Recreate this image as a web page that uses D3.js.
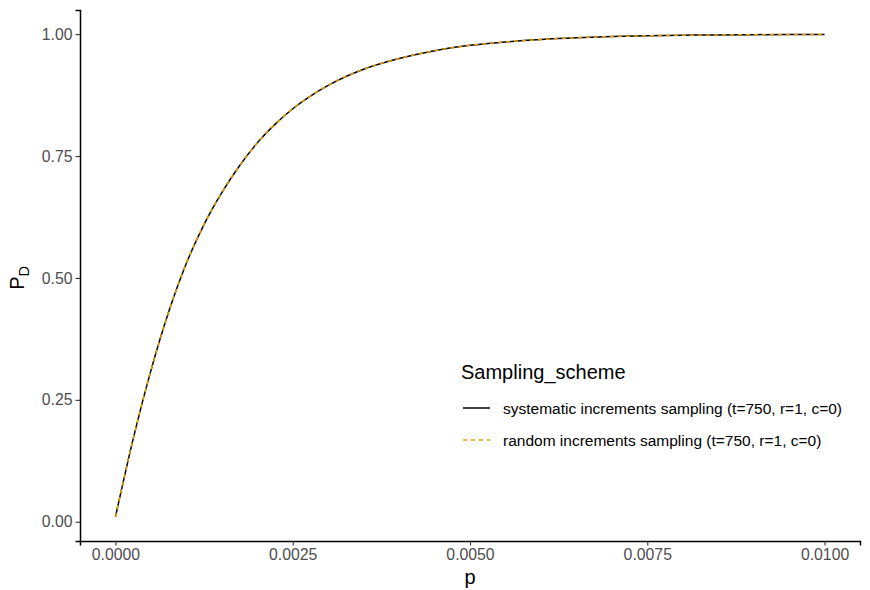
<!DOCTYPE html>
<html>
<head>
<meta charset="utf-8">
<script src="https://cdn.jsdelivr.net/npm/d3@7"></script>
<style>
  body { margin: 0; background: #fff; }
  svg { font-family: "Liberation Sans", Arial, sans-serif; }
</style>
</head>
<body>
<div id="chart"></div>
<script>
const WIDTH = 870;
const HEIGHT = 590;
const MARGIN = { top: 10, right: 10, bottom: 49, left: 80 };

// values
const pValues = [0, 0.00025, 0.0005, 0.00075, 0.001, 0.00125, 0.0015, 0.00175,
  0.002, 0.00225, 0.0025, 0.00275, 0.003, 0.0035, 0.004, 0.0045, 0.005,
  0.0055, 0.006, 0.0065, 0.007, 0.0075, 0.008, 0.0085, 0.009, 0.0095, 0.01];
const systematicPD = [0.01, 0.17, 0.31, 0.43, 0.53, 0.61, 0.675, 0.73,
  0.777, 0.815, 0.847, 0.873, 0.895, 0.928, 0.95, 0.966, 0.977,
  0.984, 0.989, 0.9925, 0.995, 0.9966, 0.9977, 0.9984, 0.9989, 0.9993, 0.9995];
const randomPD = [0.01, 0.17, 0.31, 0.43, 0.53, 0.61, 0.675, 0.73,
  0.777, 0.815, 0.847, 0.873, 0.895, 0.928, 0.95, 0.966, 0.977,
  0.984, 0.989, 0.9925, 0.995, 0.9966, 0.9977, 0.9984, 0.9989, 0.9993, 0.9995];

const schemes = [
  "systematic increments sampling (t=750, r=1, c=0)",
  "random increments sampling (t=750, r=1, c=0)"
];
const xTicks = [0, 0.0025, 0.005, 0.0075, 0.01];
const yTicks = [0, 0.25, 0.5, 0.75, 1];

const LINE_COLORS = ["#000000", "#E69F00"];
const LINE_DASH = [null, "4,4"];
const TICK_COLOR = "#4D4D4D";
const TICK_FONT = "15.8px";
const LEGEND_FONT = "15.5px";
const TITLE_FONT = "20px";

const svg = d3.select("#chart").append("svg")
  .attr("width", WIDTH)
  .attr("height", HEIGHT);

const x = d3.scaleLinear()
  .domain([-0.0005, 0.0105])
  .range([MARGIN.left, WIDTH - MARGIN.right]);

const yMin = 0.01, yMax = 1.0, yPad = (yMax - yMin) * 0.05;
const y = d3.scaleLinear()
  .domain([yMin - yPad, yMax + yPad])
  .range([HEIGHT - MARGIN.bottom, MARGIN.top]);

// axes
const xAxis = svg.append("g")
  .attr("transform", `translate(0,${HEIGHT - MARGIN.bottom})`)
  .call(d3.axisBottom(x).tickValues(xTicks).tickFormat(d3.format(".4f"))
    .tickSizeOuter(0).tickSize(4.5).tickPadding(3));

const yAxis = svg.append("g")
  .attr("transform", `translate(${MARGIN.left},0)`)
  .call(d3.axisLeft(y).tickValues(yTicks).tickFormat(d3.format(".2f"))
    .tickSizeOuter(0).tickSize(4.5).tickPadding(3));

[xAxis, yAxis].forEach(g => {
  g.attr("font-size", null).attr("font-family", null);
  g.select(".domain").attr("stroke", "#000").attr("stroke-width", 1.5);
  g.selectAll(".tick line").attr("stroke", "#333").attr("stroke-width", 1.1);
  g.selectAll(".tick text")
    .attr("fill", TICK_COLOR)
    .style("font-size", TICK_FONT);
});

// lines
const series = [systematicPD, randomPD];
const line = d3.line()
  .x((d, i) => x(pValues[i]))
  .y(d => y(d))
  .curve(d3.curveMonotoneX);

series.forEach((vals, k) => {
  svg.append("path")
    .datum(vals)
    .attr("fill", "none")
    .attr("stroke", LINE_COLORS[k])
    .attr("stroke-width", 1.5)
    .attr("stroke-dasharray", LINE_DASH[k])
    .attr("d", line);
});

// axis titles
svg.append("text")
  .attr("x", x(0.005))
  .attr("y", 584)
  .attr("text-anchor", "middle")
  .style("font-size", TITLE_FONT)
  .text("p");

const yTitle = svg.append("text")
  .attr("transform", `translate(24,${y(0.5)}) rotate(-90)`)
  .attr("text-anchor", "middle")
  .style("font-size", TITLE_FONT);
yTitle.append("tspan").text("P");
yTitle.append("tspan").style("font-size", "14.5px").attr("dy", 5).text("D");

// legend
const legend = svg.append("g").attr("transform", "translate(461,0)");
legend.append("text")
  .attr("x", 0)
  .attr("y", 379)
  .style("font-size", TITLE_FONT)
  .text("Sampling_scheme");

schemes.forEach((name, k) => {
  const ly = 408 + k * 32;
  legend.append("line")
    .attr("x1", 2).attr("x2", 29)
    .attr("y1", ly).attr("y2", ly)
    .attr("stroke", LINE_COLORS[k])
    .attr("stroke-width", 1.5)
    .attr("stroke-dasharray", LINE_DASH[k]);
  legend.append("text")
    .attr("x", 42)
    .attr("y", ly + 5.5)
    .style("font-size", LEGEND_FONT)
    .text(name);
});
</script>
</body>
</html>
